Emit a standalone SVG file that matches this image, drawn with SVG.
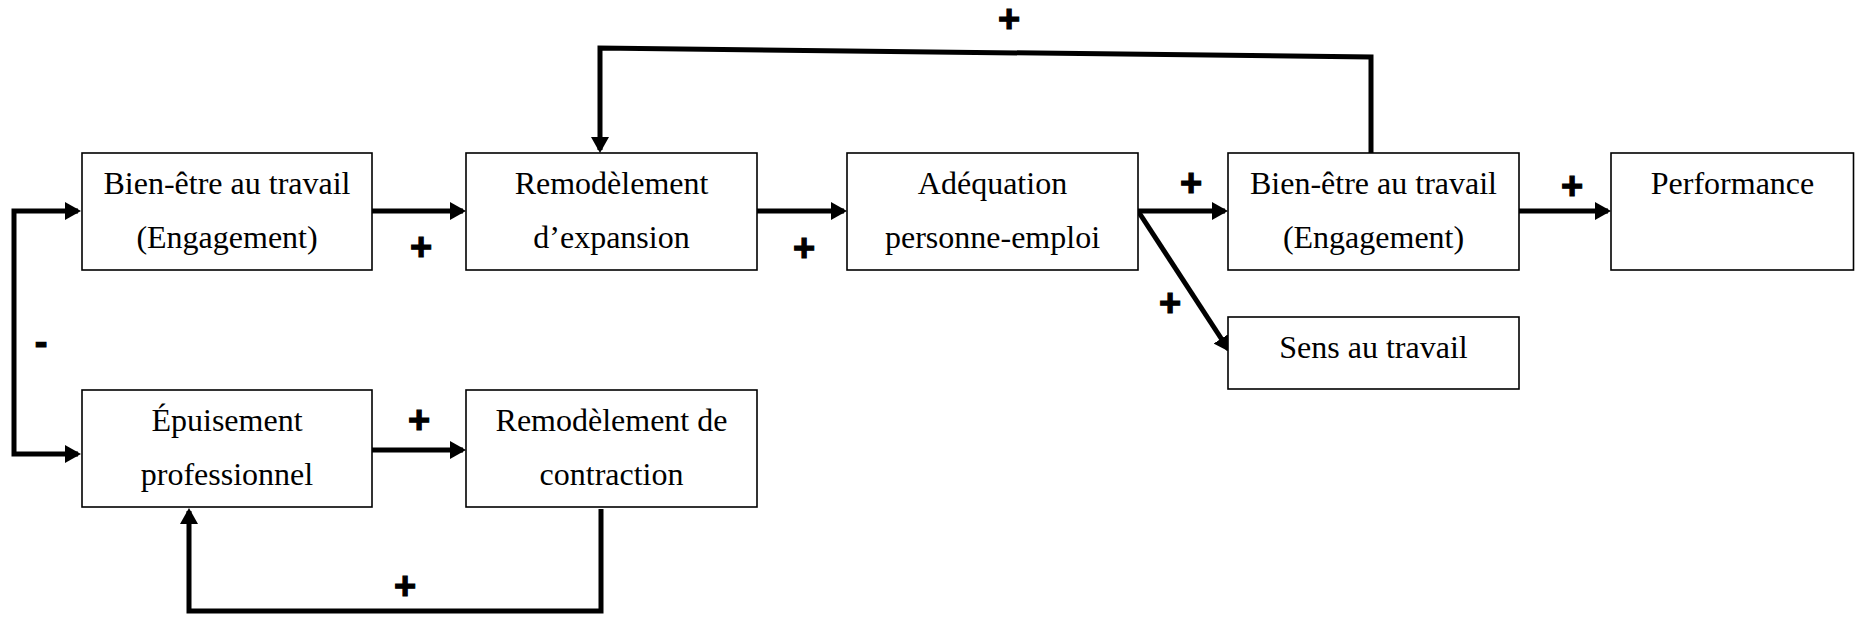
<svg xmlns="http://www.w3.org/2000/svg" width="1855" height="619" viewBox="0 0 1855 619">
<style>
.box{fill:#fff;stroke:#000;stroke-width:1.6}
.lbl{font-family:"Liberation Serif","Times New Roman",serif;font-size:32px;fill:#000;text-anchor:middle}
.conn{fill:none;stroke:#000;stroke-width:5;stroke-linejoin:miter}
.sign{font-family:"Liberation Sans",Arial,sans-serif;font-weight:bold;font-size:38px;fill:#000;stroke:#000;stroke-width:1.2;text-anchor:middle}
</style>
<defs>
<marker id="ah" markerUnits="userSpaceOnUse" markerWidth="16" markerHeight="18" refX="13" refY="9" orient="auto-start-reverse">
<path d="M0,0 L16,9 L0,18 z" fill="#000"/>
</marker>
</defs>
<rect width="1855" height="619" fill="#fff"/>
<g id="connectors">
<path class="conn" d="M372,211 H463" marker-end="url(#ah)"/>
<path class="conn" d="M757,211 H844" marker-end="url(#ah)"/>
<path class="conn" d="M1138,211 H1225" marker-end="url(#ah)"/>
<path class="conn" d="M1138,211 L1228.4,349.5" marker-end="url(#ah)"/>
<path class="conn" d="M1519,211 H1608" marker-end="url(#ah)"/>
<path class="conn" d="M1371,158 L1371,57 L600,48 L600,150" marker-end="url(#ah)"/>
<path class="conn" d="M78,211 H14 V454 H78" marker-start="url(#ah)" marker-end="url(#ah)"/>
<path class="conn" d="M372,450 H463" marker-end="url(#ah)"/>
<path class="conn" d="M601,509 V611 H189 V511" marker-end="url(#ah)"/>
</g>
<g id="signs">
<text class="sign" x="421" y="260">+</text>
<text class="sign" x="804" y="261">+</text>
<text class="sign" x="1009" y="32">+</text>
<text class="sign" x="1191" y="196">+</text>
<text class="sign" x="1170" y="316">+</text>
<text class="sign" x="1572" y="199">+</text>
<text class="sign" x="419" y="433">+</text>
<text class="sign" x="405" y="599">+</text>
<text class="sign" x="41" y="355">-</text>
</g>
<g id="n1"><rect class="box" x="82" y="153" width="290" height="117"/><text class="lbl" x="227" y="194">Bien-être au travail</text><text class="lbl" x="227" y="248">(Engagement)</text></g>
<g id="n2"><rect class="box" x="466" y="153" width="291" height="117"/><text class="lbl" x="611.5" y="194">Remodèlement</text><text class="lbl" x="611.5" y="248">d’expansion</text></g>
<g id="n3"><rect class="box" x="847" y="153" width="291" height="117"/><text class="lbl" x="992.5" y="194">Adéquation</text><text class="lbl" x="992.5" y="248">personne-emploi</text></g>
<g id="n4"><rect class="box" x="1228" y="153" width="291" height="117"/><text class="lbl" x="1373.5" y="194">Bien-être au travail</text><text class="lbl" x="1373.5" y="248">(Engagement)</text></g>
<g id="n5"><rect class="box" x="1611" y="153" width="242.5" height="117"/><text class="lbl" x="1732.5" y="194">Performance</text></g>
<g id="n6"><rect class="box" x="1228" y="317" width="291" height="72"/><text class="lbl" x="1373.5" y="358">Sens au travail</text></g>
<g id="n7"><rect class="box" x="82" y="390" width="290" height="117"/><text class="lbl" x="227" y="431">Épuisement</text><text class="lbl" x="227" y="485">professionnel</text></g>
<g id="n8"><rect class="box" x="466" y="390" width="291" height="117"/><text class="lbl" x="611.5" y="431">Remodèlement de</text><text class="lbl" x="611.5" y="485">contraction</text></g>
</svg>
